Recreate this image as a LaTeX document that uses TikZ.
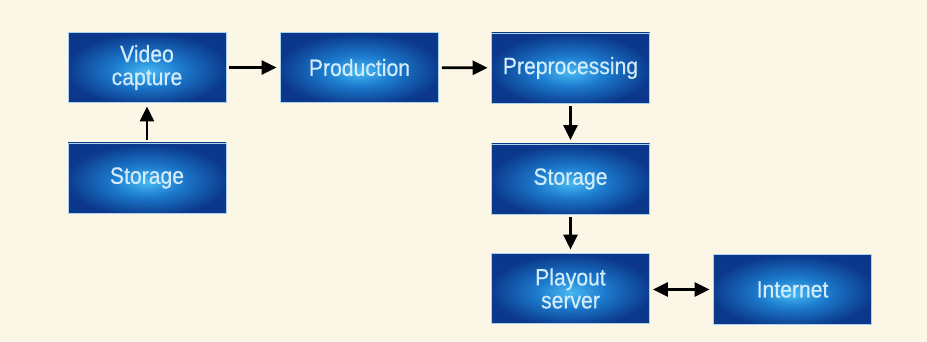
\documentclass[tikz,border=0pt]{standalone}
\usepackage{fontspec}
\setmainfont{Liberation Sans}[FakeStretch=0.9, FakeBold=0.5]
\usetikzlibrary{arrows.meta}

\definecolor{paper}{RGB}{251,246,230}
\definecolor{glowc}{RGB}{70,185,242}
\definecolor{glowm}{RGB}{28,122,205}
\definecolor{edgec}{RGB}{11,56,138}
\definecolor{rimc}{RGB}{170,210,238}
\definecolor{labelc}{RGB}{210,236,250}

% bright core slightly below the centre, dark blue towards the edges
\pgfdeclareradialshading{boxglow}{\pgfpoint{0bp}{-3bp}}{%
  color(0bp)=(glowc); color(11bp)=(glowm); color(26bp)=(edgec); color(50bp)=(edgec)}

\tikzset{
  stagebox/.style={rectangle, shading=boxglow, draw=rimc, line width=0.7pt,
    minimum width=158pt, minimum height=70pt, inner sep=0pt,
    text=labelc, font=\fontsize{23.5}{23}\selectfont, align=center},
  tip/.tip={Triangle[length=15pt,width=14pt]},
  flow/.style={line width=2.8pt, -tip, shorten <=3pt, shorten >=3.5pt},
  duplex/.style={line width=2.8pt, tip-tip, shorten <=3pt, shorten >=3.5pt}
}

\begin{document}
\begin{tikzpicture}[x=1pt,y=-1pt]
  \fill[paper] (0,0) rectangle (927,342);
  \useasboundingbox (0,0) rectangle (927,342);

  \node[stagebox] (capture) at (147,67.5)   {Video\\capture};
  \node[stagebox] (prod)    at (359.5,67.5) {Production};
  \node[stagebox] (prep)    at (570.5,68)   {Preprocessing};
  \node[stagebox] (store1)  at (147,178)    {Storage};
  \node[stagebox] (store2)  at (570.5,179)  {Storage};
  \node[stagebox] (playout) at (570.5,288.5){Playout\\server};
  \node[stagebox] (inet)    at (792.5,289.5){Internet};

  \draw[flow] (capture) -- (prod);
  \draw[flow] (prod) -- (prep);
  \draw[flow] (store1) -- (capture);
  \draw[flow] (prep) -- (store2);
  \draw[flow] (store2) -- (playout);
  \draw[duplex] (playout.east |- inet.west) -- (inet.west);
\end{tikzpicture}
\end{document}
